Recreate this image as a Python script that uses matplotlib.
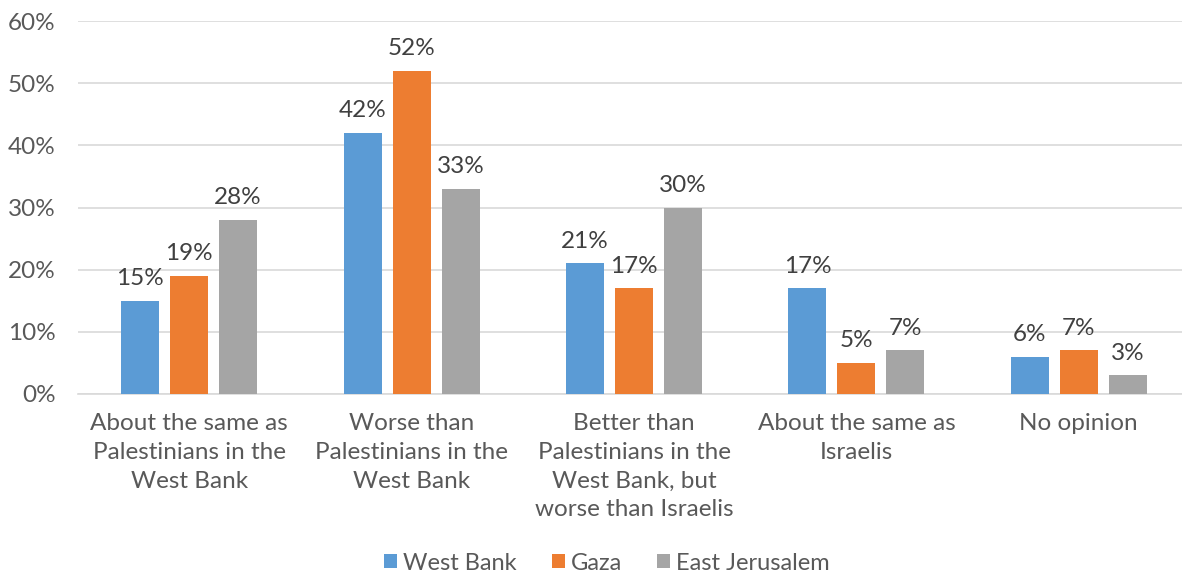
import numpy as np
import matplotlib
matplotlib.use("Agg")
import matplotlib.pyplot as plt

categories = [
    "About the same as\nPalestinians in the\nWest Bank",
    "Worse than\nPalestinians in the\nWest Bank",
    "Better than\nPalestinians in the\nWest Bank, but\nworse than Israelis",
    "About the same as\nIsraelis",
    "No opinion",
]
series = ["West Bank", "Gaza", "East Jerusalem"]
west_bank = [15, 42, 21, 17, 6]
gaza = [19, 52, 17, 5, 7]
east_jerusalem = [28, 33, 30, 7, 3]
colors = ["#5b9bd5", "#ed7d31", "#a5a5a5"]

plt.rcParams["font.family"] = ["Lato", "DejaVu Sans"]

fig = plt.figure(figsize=(11.82, 5.75), dpi=100)
W, H = 1182, 575
left, right, top, bottom = 78, 1190, 21, 394
ax = fig.add_axes([left / W, (H - bottom) / H, (right - left) / W, (bottom - top) / H])

x = np.arange(len(categories))
step = 0.22
width = 0.171
for i, (vals, name) in enumerate(zip([west_bank, gaza, east_jerusalem], series)):
    pos = x + (i - 1) * step
    ax.bar(pos, vals, width=width, color=colors[i], label=name, zorder=3)
    for px, v in zip(pos, vals):
        ax.text(px, v + 1.9, f"{v}%", ha="center", va="bottom",
                fontsize=17.5, color="#404040")

ax.set_xlim(-0.5, len(categories) - 0.5)
ax.set_ylim(0, 60)
ax.set_yticks(range(0, 61, 10))
ax.set_yticklabels([f"{t}%" for t in range(0, 61, 10)])
ax.set_xticks(x)
ax.set_xticklabels(categories, linespacing=1.45)
ax.tick_params(axis="both", length=0, labelsize=17.5, labelcolor="#595959")
ax.tick_params(axis="x", pad=14)
ax.tick_params(axis="y", pad=16)
ax.grid(axis="y", color="#d9d9d9", linewidth=1.2, zorder=0)
for s in ["top", "right", "left"]:
    ax.spines[s].set_visible(False)
ax.spines["bottom"].set_color("#d9d9d9")
ax.spines["bottom"].set_linewidth(1.2)

leg = fig.legend(loc="center", bbox_to_anchor=(607 / W, 1 - 563 / H), ncol=3,
                 frameon=False, fontsize=17, handlelength=0.55, handleheight=0.55,
                 handletextpad=0.25, columnspacing=1.5)
for t in leg.get_texts():
    t.set_color("#595959")

fig.savefig("out.png", dpi=100)
